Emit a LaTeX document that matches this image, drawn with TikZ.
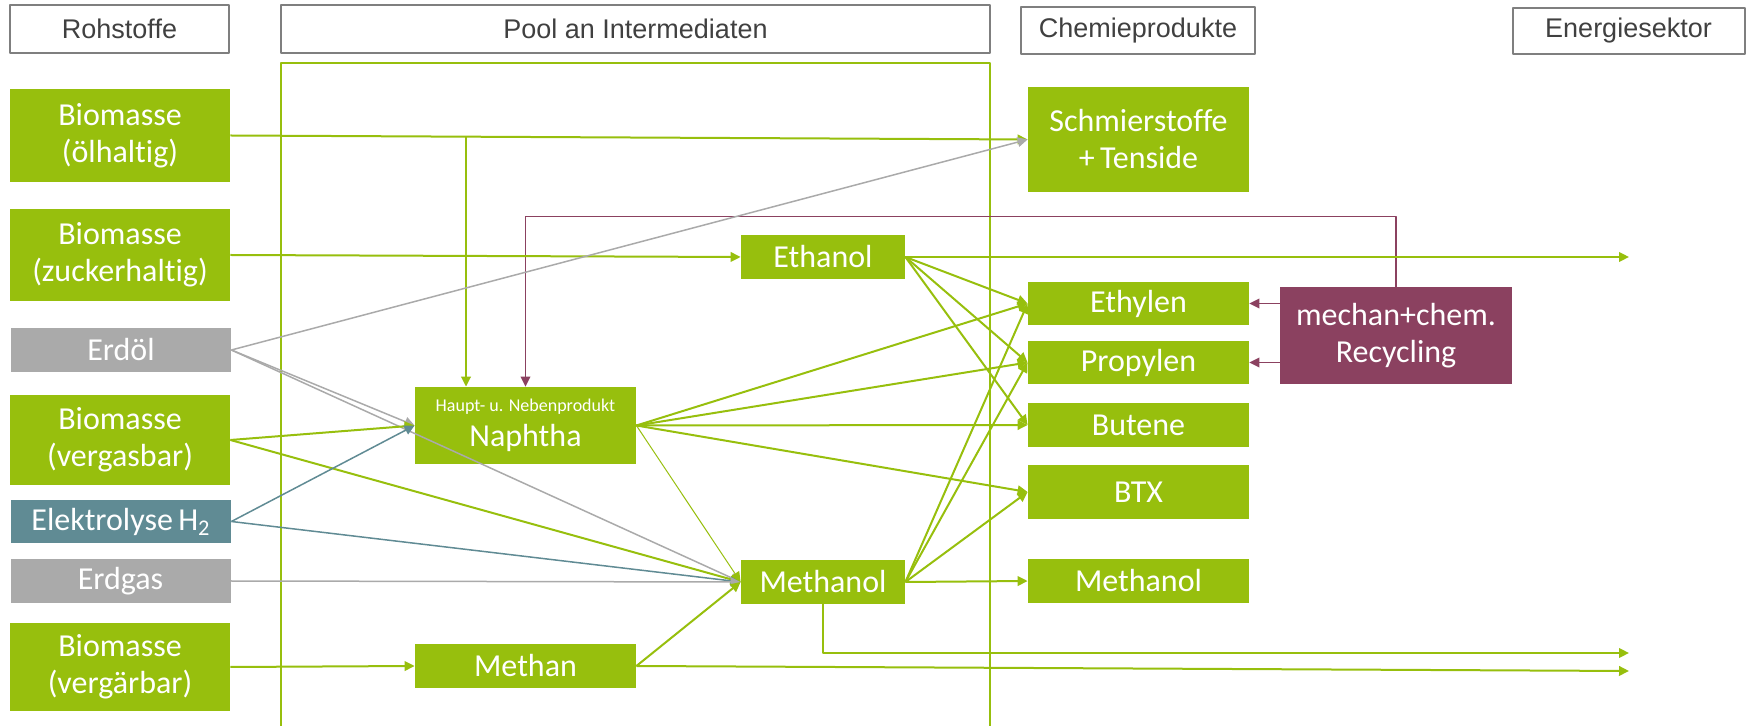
\documentclass[tikz,border=0pt]{standalone}
\usepackage{fontspec}
\setmainfont{Carlito}[Ligatures=NoCommon]
\newfontfamily\kopffont{Liberation Sans}
\usetikzlibrary{arrows.meta}
\definecolor{gruen}{RGB}{151,191,13}
\definecolor{lila}{RGB}{139,65,96}
\definecolor{petrol}{RGB}{96,139,148}
\definecolor{grau}{RGB}{170,170,170}
\definecolor{rahmen}{RGB}{127,127,127}
\definecolor{schrift}{RGB}{64,64,64}
\tikzset{
  kopf/.style={draw=rahmen,line width=1pt,text=schrift,inner sep=0pt,font=\kopffont\fontsize{13.5}{16}\selectfont},
  box/.style={fill=gruen,text=white,inner sep=0pt,align=center,font=\fontsize{16}{18.5}\selectfont},
  spitze/.style={-{Triangle[length=5pt,width=4.8pt]}},
  pfeil/.style={spitze,gruen,line width=1pt},
  grpfeil/.style={spitze,grau,line width=.75pt},
  tpfeil/.style={spitze,petrol,line width=.75pt},
  lpfeil/.style={spitze,lila,line width=.75pt}
}
\begin{document}
\begin{tikzpicture}[x=.5pt,y=-.5pt,line join=round]
\useasboundingbox (0,0) rectangle (1746,726);
\node[kopf,minimum width=109.5pt,minimum height=24pt] (hRoh) at (119.5,29) {Rohstoffe};
\node[kopf,minimum width=354.5pt,minimum height=24pt] (hPool) at (635.5,29) {Pool an Intermediaten};
\node[kopf,minimum width=117pt,minimum height=23.5pt] (hChem) at (1138,30.5) {Chemieprodukte};
\node[kopf,minimum width=116pt,minimum height=23pt] (hEnergie) at (1628.5,31) {Energiesektor};
\draw[gruen,line width=.75pt] (281,726) |- (990,63) -- (990,726);

\node[box,minimum width=110pt,minimum height=46.5pt] (bioOel) at (120,135.5) {Biomasse\\(ölhaltig)};
\node[box,minimum width=110pt,minimum height=46pt] (bioZucker) at (120,255) {Biomasse\\(zuckerhaltig)};
\node[box,fill=grau,minimum width=110pt,minimum height=22pt] (erdoel) at (121,350) {Erdöl};
\node[box,minimum width=110pt,minimum height=45pt] (bioVergas) at (120,440) {Biomasse\\(vergasbar)};
\node[box,fill=petrol,minimum width=110pt,minimum height=21.5pt] (elektro) at (121,521.5) {Elektrolyse\,H\textsubscript{2}};
\node[box,fill=grau,minimum width=110pt,minimum height=22pt] (erdgas) at (120.5,581) {Erdgas};
\node[box,minimum width=110pt,minimum height=44pt] (bioVergaer) at (120,667) {Biomasse\\(vergärbar)};

\node[box,minimum width=110.5pt,minimum height=38.5pt] (naphtha) at (525.5,425.5) {{\fontsize{9}{11}\selectfont Haupt- u. Nebenprodukt}\\[-1pt]Naphtha};
\node[box,minimum width=110.5pt,minimum height=22pt] (methan) at (525.5,666) {Methan};
\node[box,minimum width=82pt,minimum height=22pt] (ethanol) at (823,257) {Ethanol};
\node[box,minimum width=82pt,minimum height=22pt] (methanolM) at (823,582) {Methanol};

\node[box,minimum width=110.5pt,minimum height=52.5pt] (schmier) at (1138.5,139.5) {Schmierstoffe\\+\,Tenside};
\node[box,minimum width=110.5pt,minimum height=21.5pt] (ethylen) at (1138.5,303.5) {Ethylen};
\node[box,minimum width=110.5pt,minimum height=21.5pt] (propylen) at (1138.5,362.5) {Propylen};
\node[box,minimum width=110.5pt,minimum height=22pt] (butene) at (1138.5,425) {Butene};
\node[box,minimum width=110.5pt,minimum height=27pt] (btx) at (1138.5,492) {BTX};
\node[box,minimum width=110.5pt,minimum height=22pt] (methanolR) at (1138.5,581) {Methanol};
\node[box,fill=lila,minimum width=116pt,minimum height=48.5pt] (recycling) at (1396,335.5) {mechan+chem.\\Recycling};

\coordinate (oelab) at (466,136.7);
\coordinate (e1) at (1629,257);
\coordinate (e2) at (1629,653);
\coordinate (e3) at (1629,671);

\draw[pfeil] (bioOel.east) -- (schmier.west);
\draw[pfeil] (oelab) -- (oelab |- naphtha.north);
\draw[lpfeil] (recycling.north) -- ++(0,-70) -| (naphtha.north);
\foreach \ziel in {ethylen,propylen} \draw[lpfeil] (recycling.west |- \ziel.east) -- (\ziel.east);
\draw[pfeil] (bioZucker.east) -- (ethanol.west);
\draw[pfeil] (ethanol.east) -- (e1);
\draw[grpfeil] (erdoel.east) -- (schmier.west);
\foreach \ziel in {naphtha,methanolM} \draw[grpfeil] (erdoel.east) -- (\ziel.west);
\foreach \ziel in {naphtha,methanolM} \draw[pfeil] (bioVergas.east) -- (\ziel.west);
\foreach \ziel in {naphtha,methanolM} \draw[tpfeil] (elektro.east) -- (\ziel.west);
\draw[grpfeil] (erdgas.east) -- (methanolM.west);
\draw[pfeil] (bioVergaer.east) -- (methan.west);
\draw[pfeil] (methan.east) -- (methanolM.west);
\draw[pfeil] (methan.east) -- (e3);
\draw[pfeil,line width=.5pt] (naphtha.east) -- (methanolM.west);
\foreach \ziel in {ethylen,propylen,butene,btx} \draw[pfeil] (naphtha.east) -- (\ziel.west);
\foreach \ziel in {ethylen,propylen,butene} \draw[pfeil] (ethanol.east) -- (\ziel.west);
\foreach \ziel in {ethylen,propylen,btx,methanolR} \draw[pfeil] (methanolM.east) -- (\ziel.west);
\draw[pfeil] (methanolM.south) |- (e2);
\end{tikzpicture}
\end{document}
